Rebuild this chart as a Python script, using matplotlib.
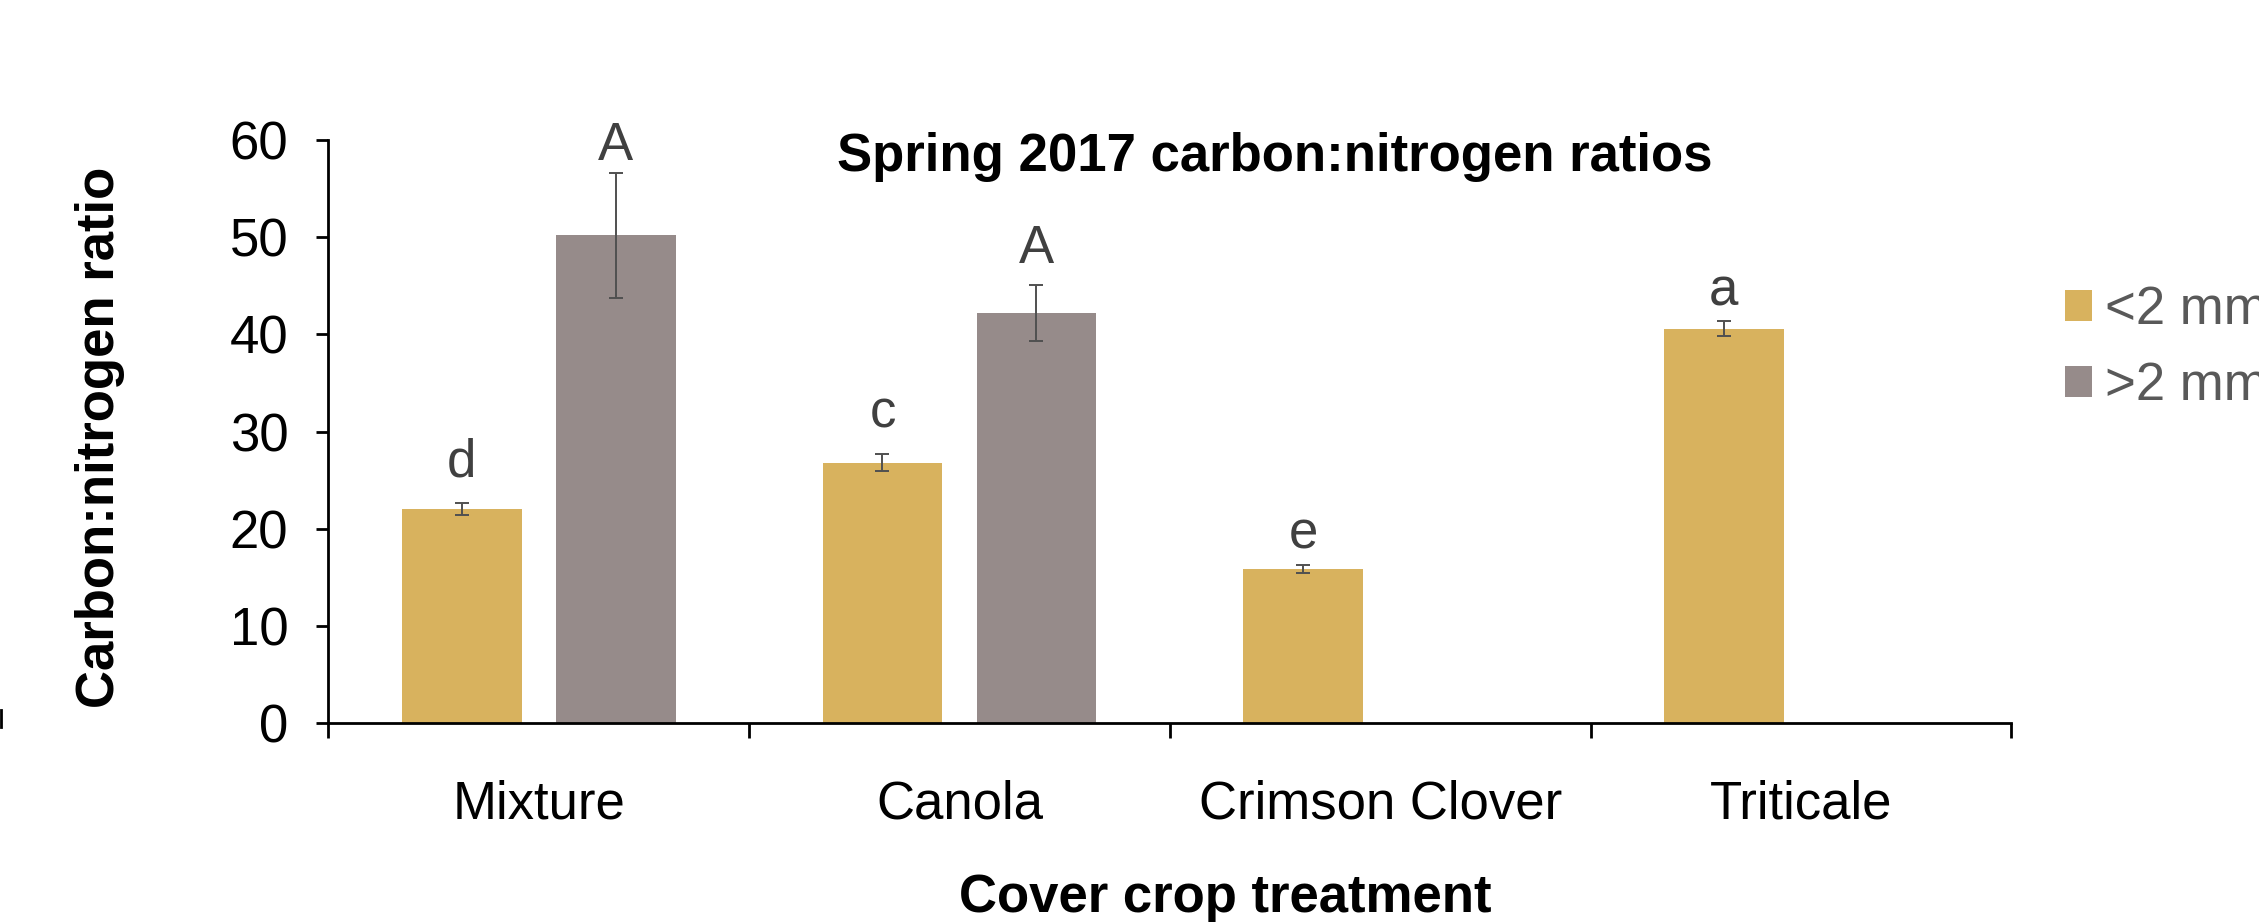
import numpy as np
import matplotlib.pyplot as plt
from matplotlib.lines import Line2D

plt.rcParams['font.family'] = ['Liberation Sans', 'DejaVu Sans']

# Spring 2017 C:N ratios by cover crop and fraction size
treatments = ["Mixture", "Canola", "Crimson Clover", "Triticale"]
fine_cn = [22.0, 26.8, 15.85, 40.6]        # <2 mm
fine_err = [0.6, 0.9, 0.4, 0.75]
coarse_cn = [50.2, 42.2, np.nan, np.nan]   # >2 mm
coarse_err = [6.4, 2.9, np.nan, np.nan]
fine_letters = ["d", "c", "e", "a"]
coarse_letters = ["A", "A", "", ""]
fine_letter_y = [25.4, 30.4, 18.0, 43.0]
coarse_letter_y = [58.0, 47.4, np.nan, np.nan]

gold = "#D8B25E"
grey = "#968B8A"
fs = 38

fig = plt.figure(figsize=(22.59, 9.22), dpi=100)
ax = fig.add_axes([0.1454, 0.2158, 0.7449, 0.6322])

x = np.arange(len(treatments))
w = 0.284
off = 0.183

ax.bar(x - off, fine_cn, w, color=gold, label="<2 mm")
ax.bar(x + off, coarse_cn, w, color=grey, label=">2 mm")
ax.errorbar(x - off, fine_cn, yerr=fine_err, fmt="none", ecolor="#505050",
            elinewidth=1.4, capsize=5, capthick=1.4)
ax.errorbar(x + off, coarse_cn, yerr=coarse_err, fmt="none", ecolor="#505050",
            elinewidth=1.4, capsize=5, capthick=1.4)

for i in range(len(x)):
    ax.text(x[i] - off, fine_letter_y[i], fine_letters[i], ha="center",
            va="baseline", fontsize=fs, color="#404040")
    if coarse_letters[i]:
        ax.text(x[i] + off, coarse_letter_y[i], coarse_letters[i], ha="center",
                va="baseline", fontsize=fs, color="#404040")

ax.set_xlim(-0.5, len(treatments) - 0.5)
ax.set_ylim(0, 60)
ax.set_yticks(np.arange(0, 61, 10))
ax.set_xticks(np.arange(-0.5, len(treatments), 1.0))
ax.set_xticklabels([])
ax.set_xticks(x, minor=True)
ax.set_xticklabels(treatments, minor=True)
ax.tick_params(axis="x", which="minor", length=0, pad=41, labelsize=fs)
ax.tick_params(axis="x", which="major", direction="out", length=11, width=2)
ax.tick_params(axis="y", direction="out", length=9, width=2, labelsize=fs,
               pad=20)

for s in ["top", "right"]:
    ax.spines[s].set_visible(False)
ax.spines["left"].set_linewidth(2)
ax.spines["bottom"].set_linewidth(2)

ax.set_ylabel("Carbon:nitrogen ratio", fontsize=fs, fontweight="bold")
ax.yaxis.set_label_coords(-0.1207, 0.49)
ax.set_xlabel("Cover crop treatment", fontsize=fs, fontweight="bold")
ax.xaxis.set_label_coords(0.5327, -0.257)

fig.text(0.5645, 0.83, "Spring 2017 carbon:nitrogen ratios", ha="center",
         va="center", fontsize=fs, fontweight="bold")

ax.legend(loc="upper left", bbox_to_anchor=(0.914, 0.6906),
          bbox_transform=fig.transFigure, frameon=False, fontsize=fs,
          labelcolor="#595959", handlelength=0.51, handleheight=0.51,
          handletextpad=0.25, labelspacing=0.49, borderpad=0,
          borderaxespad=0)

# short stray tick at the far left edge
fig.add_artist(Line2D([0.0003, 0.0003], [0.211, 0.23], color="black", lw=2))

fig.savefig("out.png", dpi=100)
